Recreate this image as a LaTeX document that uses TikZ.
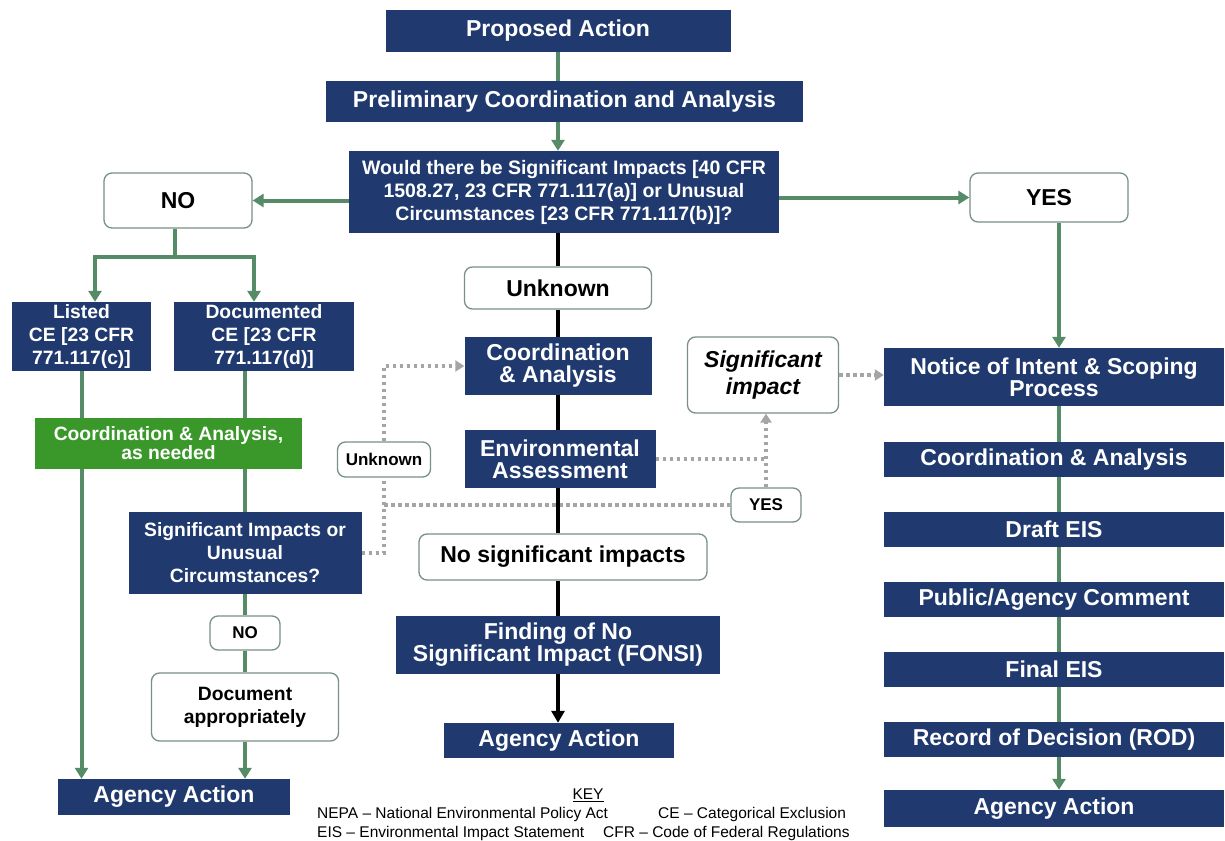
\documentclass[tikz,border=0pt]{standalone}
\usepackage{fontspec}
\setmainfont{Liberation Sans}
\usetikzlibrary{positioning, arrows.meta}

\definecolor{navy}{RGB}{32,58,112}
\definecolor{flowgreen}{RGB}{85,139,103}
\definecolor{boxgreen}{RGB}{58,152,42}
\definecolor{rimgray}{RGB}{120,145,135}
\definecolor{dotgray}{RGB}{165,165,165}

\begin{document}
\begin{tikzpicture}[
        x=1pt, y=-1pt,
        dims/.style 2 args={minimum width=#1pt, minimum height=#2pt},
        navybox/.style={rectangle, fill=navy, text=white, align=center, inner sep=0pt},
        greenbox/.style={rectangle, fill=boxgreen, text=white, align=center, inner sep=0pt},
        answer/.style={rectangle, rounded corners=8pt, draw=rimgray, line width=1.3pt,
            fill=white, text=black, align=center, inner sep=0pt},
        bigfont/.style={font=\fontsize{23}{22}\selectfont\bfseries},
        midfont/.style={font=\fontsize{19.3}{23}\selectfont\bfseries},
        smallfont/.style={font=\fontsize{17}{20}\selectfont\bfseries},
        keyfont/.style={font=\fontsize{15.5}{18}\selectfont, inner sep=0pt},
        greenline/.style={draw=flowgreen, line width=4pt},
        greenarrow/.style={greenline, -{Triangle[width=13pt,length=11pt]}},
        blackline/.style={draw=black, line width=4pt},
        blackarrow/.style={blackline, -{Triangle[width=13pt,length=12pt]}},
        dotline/.style={draw=dotgray, line width=3.5pt, dash pattern=on 3.5pt off 3.5pt},
        dotarrow/.style={dotline, -{Triangle[width=11pt,length=9pt]}},
    ]
    \path[fill=white] (0,0) rectangle (1225,840);
    \useasboundingbox (0,0) rectangle (1225,840);

    % Top of the flow
    \node[navybox, bigfont, dims={345}{42}] (proposed) at (558,31) {Proposed Action};
    \node[navybox, bigfont, dims={477}{41}] (prelim) at (564.5,101.5) {Preliminary Coordination and Analysis};
    \node[navybox, font=\fontsize{19.5}{23}\selectfont\bfseries, dims={430}{82}] (question) at (564,192)
        {Would there be Significant Impacts [40 CFR\\1508.27, 23 CFR 771.117(a)] or Unusual\\Circumstances [23 CFR 771.117(b)]?};
    \node[answer, bigfont, dims={148}{55}] (no) at (178,200.5) {NO};
    \node[answer, bigfont, dims={158}{49}] (yes) at (1049,197.5) {YES};

    % CE branch
    \coordinate (split) at (175,257);
    \node[navybox, midfont, dims={139}{69}] (listed) at (81.5,336.5) {Listed\\CE [23 CFR\\771.117(c)]};
    \node[navybox, midfont, dims={180}{69}] (documented) at (264,336.5) {Documented\\CE [23 CFR\\771.117(d)]};
    \node[greenbox, font=\fontsize{19.3}{19}\selectfont\bfseries, dims={267}{51}] (asneeded) at (168.5,443.5)
        {Coordination \& Analysis,\\as needed};
    \node[navybox, midfont, dims={233}{82}] (sigq) at (245,553) {Significant Impacts or\\Unusual\\Circumstances?};
    \node[answer, smallfont, dims={70}{34}] (noshort) at (245,633) {NO};
    \node[answer, midfont, dims={187}{68}] (docapp) at (245,707) {Document\\appropriately};
    \node[navybox, bigfont, dims={232}{36}] (agencyL) at (174,797) {Agency Action};

    % EA branch
    \node[answer, bigfont, dims={187}{42}] (unknown) at (558,288) {Unknown};
    \node[navybox, bigfont, dims={187}{58}] (coord) at (558,366) {Coordination\\\& Analysis};
    \node[navybox, bigfont, dims={191}{58}] (ea) at (560,459) {Environmental\\Assessment};
    \node[answer, bigfont, dims={288}{46}] (nosig) at (563,557) {No significant impacts};
    \node[navybox, bigfont, dims={324}{58}] (fonsi) at (558,645) {Finding of No\\Significant Impact (FONSI)};
    \node[navybox, bigfont, dims={230}{35}] (agencyM) at (559,740.5) {Agency Action};
    \node[answer, font=\fontsize{23}{27}\selectfont\bfseries\itshape, dims={151}{76}] (sigimp) at (763,375) {Significant\\impact};
    \node[answer, smallfont, dims={93}{35}] (unkshort) at (384,459.5) {Unknown};
    \node[answer, smallfont, dims={70}{34}] (yesshort) at (766,505) {YES};

    % EIS branch
    \node[navybox, font=\fontsize{23}{19}\selectfont\bfseries, dims={340}{58}] (notice) at (1054,377)
        {Notice of Intent \& Scoping\\Process};
    \node[navybox, bigfont, dims={340}{35}] (coordR) at (1054,459.5) {Coordination \& Analysis};
    \node[navybox, bigfont, dims={340}{35}] (draft) at (1054,529.5) {Draft EIS};
    \node[navybox, bigfont, dims={340}{35}] (public) at (1054,599.5) {Public/Agency Comment};
    \node[navybox, bigfont, dims={340}{35}] (final) at (1054,669.5) {Final EIS};
    \node[navybox, bigfont, dims={340}{35}] (record) at (1054,739.5) {Record of Decision (ROD)};
    \node[navybox, bigfont, dims={340}{37}] (agencyR) at (1054,808.5) {Agency Action};

    % Key
    \node[keyfont] (keytitle) at (588,795) {\underline{KEY}};
    \node[keyfont, anchor=west] (nepa) at (317,814) {NEPA -- National Environmental Policy Act};
    \node[keyfont, anchor=west] (ce) at (658,814) {CE -- Categorical Exclusion};
    \node[keyfont, anchor=west] (eis) at (317,833) {EIS -- Environmental Impact Statement};
    \node[keyfont, anchor=west] (cfr) at (603,833) {CFR -- Code of Federal Regulations};

    % Dotted loops
    \draw[dotline] (sigq.east) -| (unkshort.south);
    \draw[dotarrow] (unkshort.north) |- (coord.west);
    \draw[dotline] (unkshort.south |- yesshort.west) -- (yesshort.west);
    \draw[dotline] (ea.east) -- (ea.east -| yesshort.north);
    \draw[dotarrow] (yesshort.north) -- (yesshort.north |- sigimp.south);
    \draw[dotarrow] (sigimp.east) -- (sigimp.east -| notice.west);

    % Top arrows
    \draw[greenline] (proposed.south) -- (proposed.south |- prelim.north);
    \draw[greenarrow] (prelim.south -| proposed.south) -- (question.north -| proposed.south);
    \draw[greenarrow] (question.west |- no.east) -- (no.east);
    \draw[greenarrow] (question.east |- yes.west) -- (yes.west);

    % CE arrows
    \draw[greenline] (no.south -| split) -- (split);
    \draw[greenarrow] (split) -| ([xshift=13.5pt]listed.north);
    \draw[greenarrow] (split) -| ([xshift=-10pt]documented.north);
    \draw[greenline] (listed.south) -- (listed.south |- asneeded.north);
    \draw[greenarrow] (asneeded.south -| listed.south) -- (agencyL.north -| listed.south);
    \draw[greenline] (documented.south -| sigq.north) -- (asneeded.north -| sigq.north);
    \draw[greenline] (asneeded.south -| sigq.north) -- (sigq.north);
    \draw[greenline] (sigq.south) -- (noshort.north);
    \draw[greenline] (noshort.south) -- (docapp.north);
    \draw[greenarrow] (docapp.south) -- (docapp.south |- agencyL.north);

    % EA arrows
    \draw[blackline] (question.south -| unknown.center) -- (unknown.north);
    \draw[blackline] (unknown.south) -- (coord.north);
    \draw[blackline] (coord.south) -- (coord.south |- ea.north);
    \draw[blackline] (ea.south -| coord.south) -- (nosig.north -| coord.south);
    \draw[blackline] (nosig.south -| coord.south) -- (fonsi.north -| coord.south);
    \draw[blackarrow] (fonsi.south) -- (fonsi.south |- agencyM.north);

    % EIS arrows
    \draw[greenarrow] ([xshift=10pt]yes.south) -- ([xshift=5pt]notice.north);
    \draw[greenline] ([xshift=5pt]notice.south) -- ([xshift=5pt]coordR.north);
    \draw[greenline] ([xshift=5pt]coordR.south) -- ([xshift=5pt]draft.north);
    \draw[greenline] ([xshift=5pt]draft.south) -- ([xshift=5pt]public.north);
    \draw[greenline] ([xshift=5pt]public.south) -- ([xshift=5pt]final.north);
    \draw[greenline] ([xshift=5pt]final.south) -- ([xshift=5pt]record.north);
    \draw[greenarrow] ([xshift=5pt]record.south) -- ([xshift=5pt]agencyR.north);
\end{tikzpicture}
\end{document}
